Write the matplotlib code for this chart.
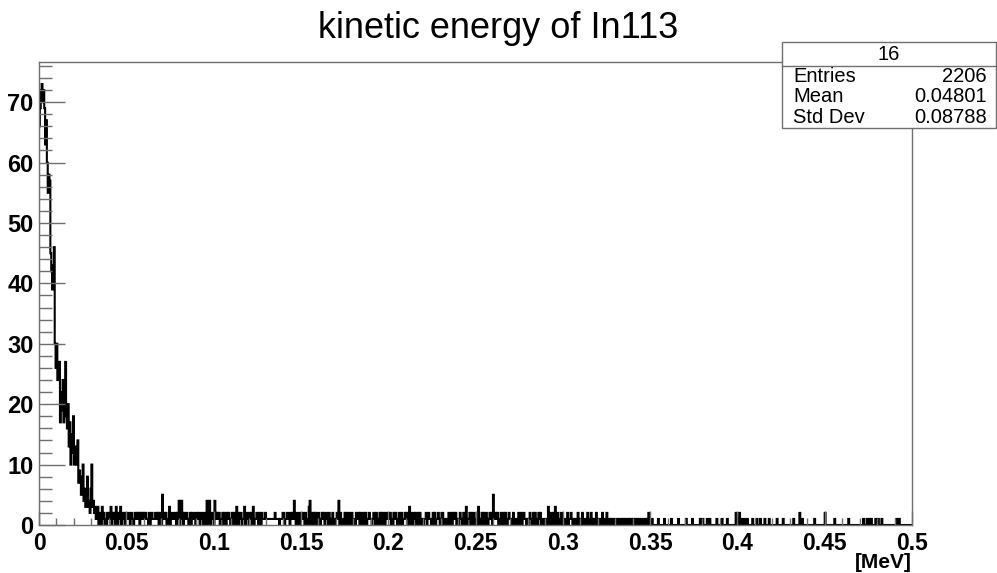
import numpy as np
import matplotlib
matplotlib.use('Agg')
import matplotlib.pyplot as plt
import matplotlib.patches as mpatches
from matplotlib.ticker import MultipleLocator

plt.rcParams['font.family'] = ['Liberation Sans', 'DejaVu Sans']

# histogram: 1000 bins of 0.0005 MeV between 0 and 0.5
n_bins = 1000
x_min, x_max = 0.0, 0.5

# first 80 bins (0 - 0.04 MeV)
head_counts = [66, 69, 72, 73, 70, 72, 69,
               63, 67, 60, 55, 58, 57, 45,
               42, 39, 43, 46,
               30, 26, 30, 24,
               25, 27, 17, 22,
               19, 24, 17, 20,
               27, 18, 16, 20,
               13, 17, 10, 15,
               12, 18, 10, 13,
               12, 10, 14, 7,
               9, 8, 5, 7,
               10, 4, 6, 3,
               5, 8, 3, 4,
               2, 6, 10, 3,
               4, 2, 3, 1,
               2, 3, 0, 2,
               1, 0, 3, 1, 2, 0, 1, 0, 2, 1]

# tail, one string per 0.01 MeV (20 bins), one digit = one bin count
tail_rows = [
    "21302120310213012102",  # 0.04
    "12210221012121202121",
    "21211020121112212021",
    "05121201030122112021",
    "40142021121012021120",
    "12120121021040140121",  # 0.09
    "04212120112021021210",
    "12021032012201130121",
    "02120301121021021112",
    "11111111112111101112",
    "20112210212141020120",  # 0.14
    "12210201034012020210",
    "21012120121021012010",
    "12140201102020120120",
    "11021120220120201121",
    "10121021012020120121",  # 0.19
    "11201021210120120112",
    "12103021021201202101",
    "01120121101202011210",
    "12201101020120121201",
    "01210120130112021020",  # 0.24
    "11031012021021012120",
    "51121201021020210121",
    "10120101020120121101",
    "01210120201021201101",
    "10130120120301201020",  # 0.29
    "11010201121010110201",
    "01201010201021010120",
    "10101200102010101010",
    "01010011010100101010",
    "10100101001001010120",  # 0.34
    "00100000010000001000",
    "00001000000010000000",
    "01000000100000000100",
    "10000100100000001000",
    "00100000100000000020",  # 0.39
    "01200100100100000100",
    "00100010000100001000",
    "00000100000010000000",
    "00001000000200100000",
    "00000000100000000000",  # 0.44
    "20000000000100000000",
    "00000001000000000000",
    "00001000100101000010",
    "01000100000000000000",
    "00100100000000000000",  # 0.49
]

y_max = 76.65
xtick_vals = [0, 0.05, 0.1, 0.15, 0.2, 0.25, 0.3, 0.35, 0.4, 0.45, 0.5]
xtick_labels = ['0', '0.05', '0.1', '0.15', '0.2', '0.25', '0.3', '0.35', '0.4', '0.45', '0.5']
ytick_vals = [0, 10, 20, 30, 40, 50, 60, 70]

stats_name = '16'
stats_rows = [('Entries', '2206'), ('Mean', '0.04801'), ('Std Dev', '0.08788')]

tail_counts = [int(c) for row in tail_rows for c in row]
counts = np.array(head_counts + tail_counts, dtype=float)
assert len(counts) == n_bins, len(counts)
edges = np.linspace(x_min, x_max, n_bins + 1)

frame_col = '#707070'
fig = plt.figure(figsize=(9.97, 5.73), dpi=100)
ax = fig.add_axes([39 / 997, 1 - 525 / 573, (912 - 39) / 997, (525 - 62) / 573])

ax.stairs(counts, edges, color='black', linewidth=1.5, baseline=0)
ax.set_xlim(x_min, x_max)
ax.set_ylim(0, y_max)

ax.set_xticks(xtick_vals)
ax.set_xticklabels(xtick_labels)
ax.set_yticks(ytick_vals)
ax.xaxis.set_minor_locator(MultipleLocator(0.01))
ax.yaxis.set_minor_locator(MultipleLocator(2))
ax.tick_params(axis='both', which='both', direction='in', color=frame_col, width=1.0)
ax.tick_params(axis='y', which='major', length=18.7, pad=4, labelsize=17)
ax.tick_params(axis='y', which='minor', length=9.4)
ax.tick_params(axis='x', which='major', length=10, pad=5, labelsize=16.5)
ax.tick_params(axis='x', which='minor', length=5)
for lab in ax.get_xticklabels() + ax.get_yticklabels():
    lab.set_fontweight('bold')
for sp in ax.spines.values():
    sp.set_color(frame_col)
    sp.set_linewidth(1.0)

# axis title sits under the right end of the x axis, like ROOT does it
fig.text(912 / 997, 1 - 562 / 573, '[MeV]', ha='right', va='center', fontsize=15, fontweight='bold')

fig.text(0.5, 1 - 28 / 573, 'kinetic energy of In113', ha='center', va='center', fontsize=26)

# stats box (figure coords)
bx0, bx1 = 782 / 997, 996 / 997
by_top, by_sep, by_bot = 1 - 42 / 573, 1 - 66 / 573, 1 - 128 / 573
box = mpatches.Rectangle((bx0, by_bot), bx1 - bx0, by_top - by_bot, transform=fig.transFigure,
                         facecolor='white', edgecolor=frame_col, linewidth=1.0, zorder=10)
fig.add_artist(box)
fig.add_artist(plt.Line2D([bx0, bx1], [by_sep, by_sep], transform=fig.transFigure,
                          color=frame_col, linewidth=1.0, zorder=11))
fig.text((bx0 + bx1) / 2, (by_top + by_sep) / 2, stats_name, ha='center', va='center', fontsize=14.5, zorder=12)
row_h = (by_sep - by_bot) / len(stats_rows)
for i, (name, val) in enumerate(stats_rows):
    yc = by_sep - (i + 0.5) * row_h
    fig.text(bx0 + 11 / 997, yc, name, ha='left', va='center', fontsize=14.5, zorder=12)
    fig.text(bx1 - 9 / 997, yc, val, ha='right', va='center', fontsize=14.5, zorder=12)

fig.savefig('out.png', dpi=100)
